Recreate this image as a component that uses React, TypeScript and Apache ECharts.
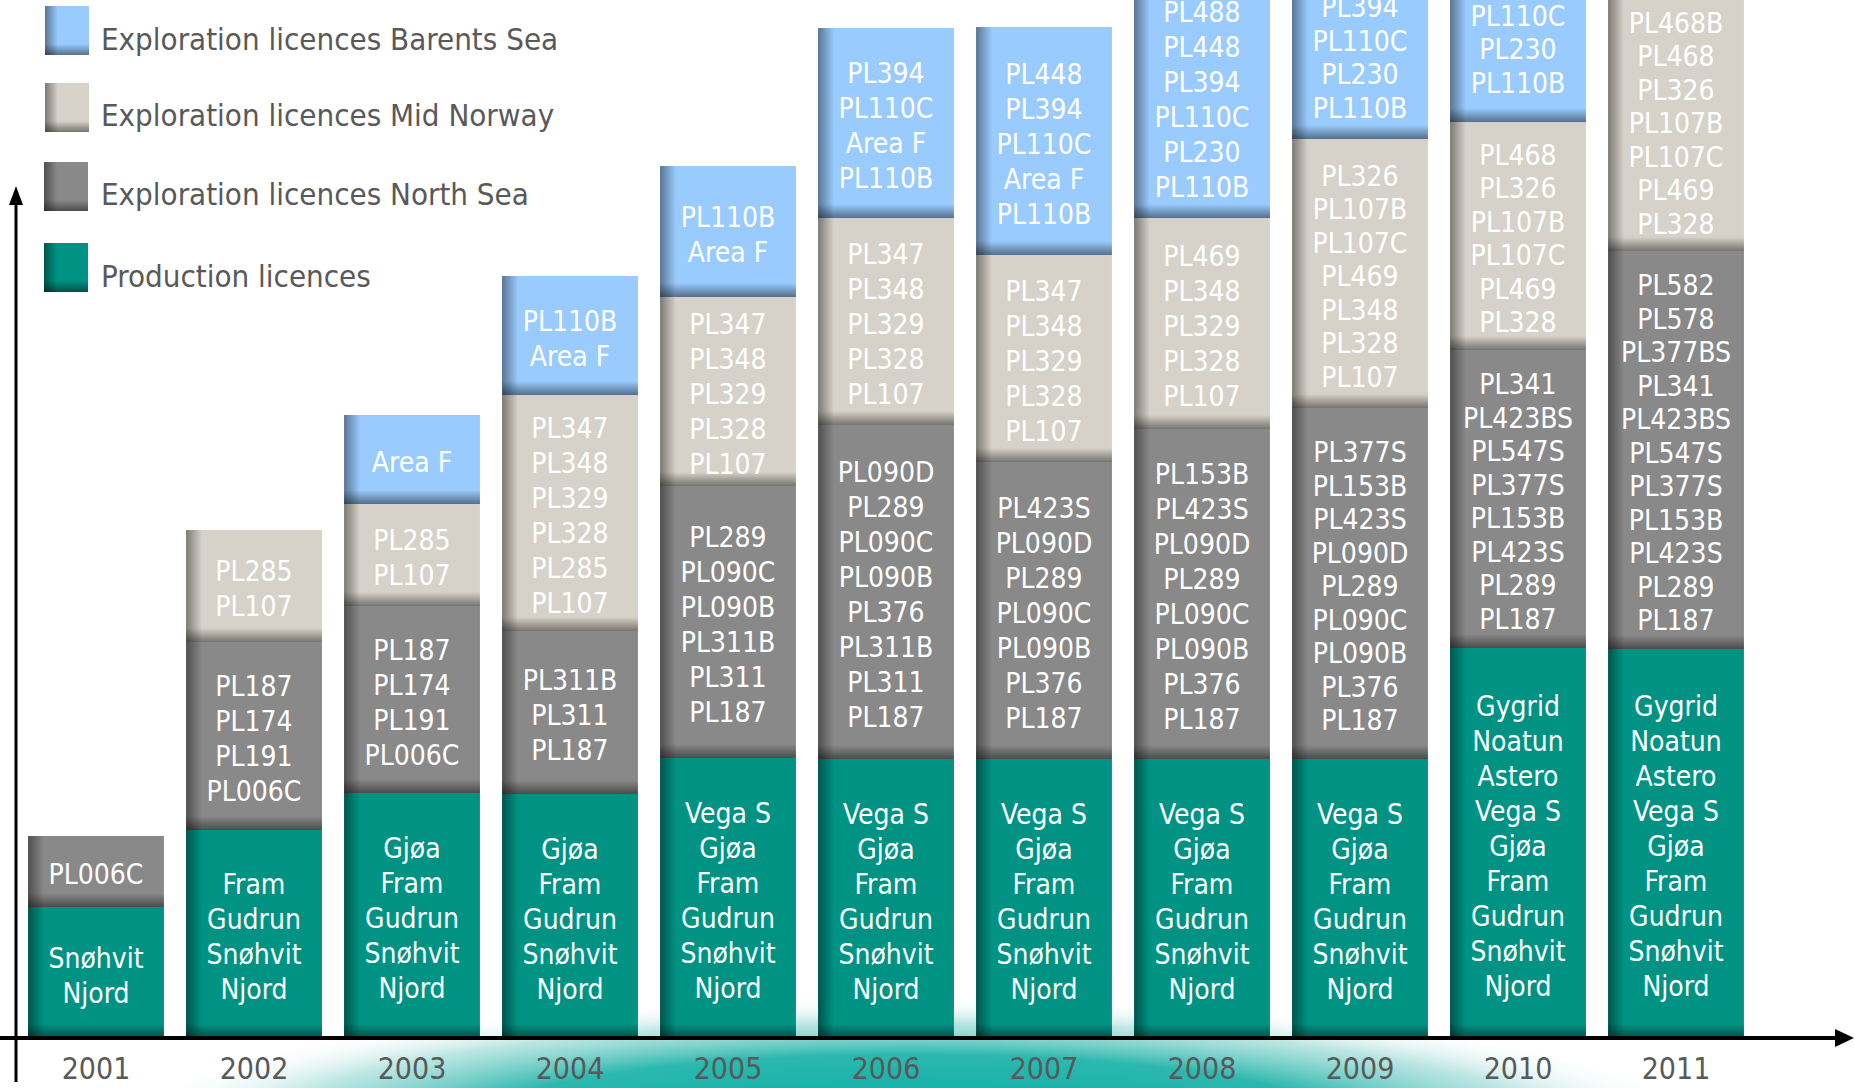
import React, { useEffect, useRef } from "react";
import * as echarts from "echarts";

const years = ["2001", "2002", "2003", "2004", "2005", "2006", "2007", "2008", "2009", "2010", "2011"];

// segment heights (chart units)
const production = [131, 208, 245, 244, 280, 279, 279, 279, 279, 390, 389];
const northSea = [71, 188, 187, 163, 272, 334, 297, 330, 351, 298, 398];
const midNorway = [0, 112, 102, 236, 189, 207, 207, 211, 269, 228, 261];
const barentsSea = [0, 0, 89, 119, 131, 190, 228, 242, 168, 151, 0];

const productionLabels = [
  ["Snøhvit", "Njord"],
  ["Fram", "Gudrun", "Snøhvit", "Njord"],
  ["Gjøa", "Fram", "Gudrun", "Snøhvit", "Njord"],
  ["Gjøa", "Fram", "Gudrun", "Snøhvit", "Njord"],
  ["Vega S", "Gjøa", "Fram", "Gudrun", "Snøhvit", "Njord"],
  ["Vega S", "Gjøa", "Fram", "Gudrun", "Snøhvit", "Njord"],
  ["Vega S", "Gjøa", "Fram", "Gudrun", "Snøhvit", "Njord"],
  ["Vega S", "Gjøa", "Fram", "Gudrun", "Snøhvit", "Njord"],
  ["Vega S", "Gjøa", "Fram", "Gudrun", "Snøhvit", "Njord"],
  ["Gygrid", "Noatun", "Astero", "Vega S", "Gjøa", "Fram", "Gudrun", "Snøhvit", "Njord"],
  ["Gygrid", "Noatun", "Astero", "Vega S", "Gjøa", "Fram", "Gudrun", "Snøhvit", "Njord"],
];

const northSeaLabels = [
  ["PL006C"],
  ["PL187", "PL174", "PL191", "PL006C"],
  ["PL187", "PL174", "PL191", "PL006C"],
  ["PL311B", "PL311", "PL187"],
  ["PL289", "PL090C", "PL090B", "PL311B", "PL311", "PL187"],
  ["PL090D", "PL289", "PL090C", "PL090B", "PL376", "PL311B", "PL311", "PL187"],
  ["PL423S", "PL090D", "PL289", "PL090C", "PL090B", "PL376", "PL187"],
  ["PL153B", "PL423S", "PL090D", "PL289", "PL090C", "PL090B", "PL376", "PL187"],
  ["PL377S", "PL153B", "PL423S", "PL090D", "PL289", "PL090C", "PL090B", "PL376", "PL187"],
  ["PL341", "PL423BS", "PL547S", "PL377S", "PL153B", "PL423S", "PL289", "PL187"],
  ["PL582", "PL578", "PL377BS", "PL341", "PL423BS", "PL547S", "PL377S", "PL153B", "PL423S", "PL289", "PL187"],
];

const midNorwayLabels = [
  [],
  ["PL285", "PL107"],
  ["PL285", "PL107"],
  ["PL347", "PL348", "PL329", "PL328", "PL285", "PL107"],
  ["PL347", "PL348", "PL329", "PL328", "PL107"],
  ["PL347", "PL348", "PL329", "PL328", "PL107"],
  ["PL347", "PL348", "PL329", "PL328", "PL107"],
  ["PL469", "PL348", "PL329", "PL328", "PL107"],
  ["PL326", "PL107B", "PL107C", "PL469", "PL348", "PL328", "PL107"],
  ["PL468", "PL326", "PL107B", "PL107C", "PL469", "PL328"],
  ["PL468B", "PL468", "PL326", "PL107B", "PL107C", "PL469", "PL328"],
];

const barentsSeaLabels = [
  [],
  [],
  ["Area F"],
  ["PL110B", "Area F"],
  ["PL110B", "Area F"],
  ["PL394", "PL110C", "Area F", "PL110B"],
  ["PL448", "PL394", "PL110C", "Area F", "PL110B"],
  ["PL488", "PL448", "PL394", "PL110C", "PL230", "PL110B"],
  ["PL394", "PL110C", "PL230", "PL110B"],
  ["PL110C", "PL230", "PL110B"],
  [],
];

const seriesNames = [
  "Production licences",
  "Exploration licences North Sea",
  "Exploration licences Mid Norway",
  "Exploration licences Barents Sea",
];
const seriesColors = ["#009283", "#898989", "#d6d2c9", "#99cbff"];

const FONT = '"DejaVu Sans Condensed", "DejaVu Sans", sans-serif';

function shade(x: number, y: number, w: number, h: number, leftW = 16, botH = 14) {
  const left = Math.min(leftW, w);
  const bot = Math.min(botH, h);
  return [
    {
      type: "rect",
      shape: { x, y, width: left, height: h },
      style: {
        fill: new echarts.graphic.LinearGradient(0, 0, 1, 0, [
          { offset: 0, color: "rgba(0,0,0,0.42)" },
          { offset: 1, color: "rgba(0,0,0,0)" },
        ]),
      },
    },
    {
      type: "rect",
      shape: { x, y: y + h - bot, width: w, height: bot },
      style: {
        fill: new echarts.graphic.LinearGradient(0, 0, 0, 1, [
          { offset: 0, color: "rgba(0,0,0,0)" },
          { offset: 1, color: "rgba(0,0,0,0.45)" },
        ]),
      },
    },
  ];
}

export default function App() {
  const ref = useRef<HTMLDivElement>(null);

  useEffect(() => {
    if (!ref.current) return;
    const chart = echarts.init(ref.current, null, { renderer: "svg", width: 1855, height: 1088 });

    const allValues = [production, northSea, midNorway, barentsSea];
    const allLabels = [productionLabels, northSeaLabels, midNorwayLabels, barentsSeaLabels];

    const series = allValues.map((vals, s) => {
      const data = vals.map((v, i) => {
        let base = 0;
        for (let k = 0; k < s; k++) base += allValues[k][i];
        return [i, base, v];
      });
      return {
        type: "custom",
        name: seriesNames[s],
        data,
        encode: { x: 0, y: 2 },
        z: 2,
        renderItem: (params: any, api: any) => {
          const i = params.dataIndex;
          const xi = api.value(0);
          const base = api.value(1);
          const val = api.value(2);
          if (!val) return null;
          const p0 = api.coord([xi, base]);
          const p1 = api.coord([xi, base + val]);
          const bw = api.size([1, 0])[0] * 0.86;
          const x = p0[0] - bw / 2;
          const y = p1[1];
          const h = p0[1] - p1[1];
          const lines: string[] = allLabels[s][i];
          const lh = i >= 8 && s > 0 ? 33.5 : 35;
          return {
            type: "group",
            children: [
              { type: "rect", shape: { x, y, width: bw, height: h }, style: { fill: seriesColors[s] } },
              ...shade(x, y, bw, h),
              {
                type: "text",
                style: {
                  text: lines.join("\n"),
                  x: p0[0],
                  y: y + h / 2 + 3,
                  align: "center",
                  verticalAlign: "middle",
                  fill: "#ffffff",
                  fontSize: 28,
                  fontFamily: FONT,
                  lineHeight: lh,
                },
              },
            ],
          };
        },
      };
    });

    // legend built as graphic (top to bottom: Barents, Mid Norway, North Sea, Production)
    const legendItems = [
      { name: seriesNames[3], color: seriesColors[3], x: 45, y: 6, ty: 39 },
      { name: seriesNames[2], color: seriesColors[2], x: 45, y: 83, ty: 115 },
      { name: seriesNames[1], color: seriesColors[1], x: 44, y: 162, ty: 194 },
      { name: seriesNames[0], color: seriesColors[0], x: 44, y: 243, ty: 276 },
    ];
    const legendGraphics: any[] = [];
    legendItems.forEach((it) => {
      legendGraphics.push({
        type: "group",
        z: 50,
        children: [
          { type: "rect", shape: { x: it.x, y: it.y, width: 44, height: 49 }, style: { fill: it.color } },
          ...shade(it.x, it.y, 44, 49, 13, 11),
        ],
      });
      legendGraphics.push({
        type: "text",
        z: 50,
        style: {
          text: it.name,
          x: 101,
          y: it.ty,
          align: "left",
          verticalAlign: "middle",
          fill: "#595959",
          fontSize: 31,
          fontFamily: FONT,
        },
      });
    });

    const option: any = {
      animation: false,
      backgroundColor: "#ffffff",
      grid: { left: 17, right: 100, top: 0, bottom: 50, containLabel: false },
      xAxis: {
        type: "category",
        data: years,
        axisLine: { show: false },
        axisTick: { show: false },
        splitLine: { show: false },
        axisLabel: { fontSize: 30, color: "#595959", fontFamily: FONT, margin: 15 },
      },
      yAxis: {
        type: "value",
        min: 0,
        max: 1038,
        show: false,
        splitLine: { show: false },
      },
      series,
      graphic: [
        {
          type: "ellipse",
          z: -10,
          silent: true,
          shape: { cx: 910, cy: 1125, rx: 790, ry: 128 },
          style: {
            fill: new echarts.graphic.RadialGradient(0.5, 0.5, 0.5, [
              { offset: 0, color: "rgba(0,172,162,1)" },
              { offset: 0.55, color: "rgba(20,176,166,0.9)" },
              { offset: 0.8, color: "rgba(120,205,198,0.5)" },
              { offset: 1, color: "rgba(255,255,255,0)" },
            ]),
          },
        },
        {
          type: "line",
          z: 100,
          shape: { x1: 16, y1: 200, x2: 16, y2: 1082 },
          style: { stroke: "#000", lineWidth: 3 },
        },
        {
          type: "polygon",
          z: 100,
          shape: { points: [[16, 186], [9, 205], [23, 205]] },
          style: { fill: "#000" },
        },
        {
          type: "line",
          z: 100,
          shape: { x1: 0, y1: 1038, x2: 1840, y2: 1038 },
          style: { stroke: "#000", lineWidth: 4 },
        },
        {
          type: "polygon",
          z: 100,
          shape: { points: [[1854, 1038], [1835, 1029], [1835, 1047]] },
          style: { fill: "#000" },
        },
        ...legendGraphics,
      ],
    };

    chart.setOption(option);
    return () => chart.dispose();
  }, []);

  return (
    <div
      ref={ref}
      style={{ position: "fixed", left: 0, top: 0, width: 1855, height: 1088, background: "#ffffff" }}
    />
  );
}
